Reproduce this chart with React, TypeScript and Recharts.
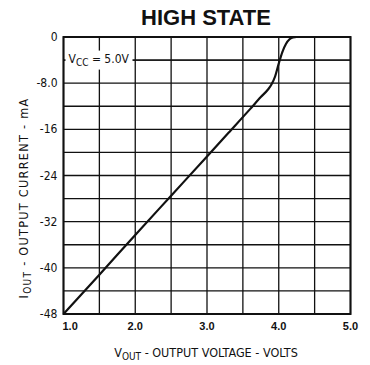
import React from 'react';
import { LineChart, Line, XAxis, YAxis, CartesianGrid, ReferenceLine, ReferenceArea } from 'recharts';

// Output voltage (V) and output current (mA)
const vOut = [1.0, 1.5, 2.0, 2.5, 3.0, 3.3, 3.6, 3.75, 3.85, 3.9, 3.95, 4.0, 4.05, 4.1, 4.15, 4.2, 4.25, 5.0];
const iOut = [-48, -41.2, -34.3, -27.5, -20.7, -16.6, -12.5, -10.4, -9.1, -8.2, -6.8, -4.6, -2.6, -1.2, -0.4, -0.05, 0, 0];

const xTicks = [1.0, 1.5, 2.0, 2.5, 3.0, 3.5, 4.0, 4.5, 5.0];
const yTicks = [0, -4, -8, -12, -16, -20, -24, -28, -32, -36, -40, -44, -48];
const yTickLabels: Record<number, string> = { 0: '0', [-8]: '-8.0', [-16]: '-16', [-24]: '-24', [-32]: '-32', [-40]: '-40', [-48]: '-48' };

const title = 'HIGH STATE';
const vccLabel = { main: 'V', sub: 'CC', rest: ' = 5.0V' };

const data = vOut.map((v, i) => ({ v, i: iOut[i] }));

const NARROW = "'Liberation Sans Narrow', 'DejaVu Sans Condensed', 'Liberation Sans', sans-serif";
const SANS = "'Liberation Sans', Arial, sans-serif";

const XTick = (props: any) => {
  const { x, y, payload, index } = props;
  const v = payload.value as number;
  if (Math.abs(v - Math.round(v)) > 1e-6) return null;
  return (
    <text x={index === 0 ? x - 1 : x} y={y} dy={8} textAnchor={index === 0 ? 'start' : 'middle'}
      fontFamily={SANS} fontSize={11} fontWeight="bold" fill="#111">
      {v.toFixed(1)}
    </text>
  );
};

const YTick = (props: any) => {
  const { x, y, payload } = props;
  const label = yTickLabels[payload.value as number];
  if (label === undefined) return null;
  return (
    <text x={x} y={y} dy={4} textAnchor="end" fontFamily={NARROW} fontSize={12} fill="#111">
      {label}
    </text>
  );
};

const XTitle = () => (
  <g>
    <text x={206} y={25} textAnchor="middle" fontFamily={SANS} fontSize={22} fontWeight="bold" fill="#111">
      {title}
    </text>
    <text x={206} y={357} textAnchor="middle" fontFamily={NARROW} fontSize={12.5} fill="#111">
      V<tspan fontSize={10} dy={3}>OUT</tspan><tspan dy={-3}> - OUTPUT VOLTAGE - VOLTS</tspan>
    </text>
  </g>
);

const YTitle = () => (
  <text x={28} y={198} transform="rotate(-90, 28, 198)" textAnchor="middle" fontFamily={NARROW} fontSize={12.5}
    letterSpacing={1.3} fill="#111">
    I<tspan fontSize={10} dy={3}>OUT</tspan><tspan dy={-3}> - OUTPUT CURRENT - mA</tspan>
  </text>
);

const VccLabel = (props: any) => {
  const vb = props.viewBox || {};
  const x0 = (vb.x ?? 63.5) + 2;
  const y0 = vb.y ?? 60.7;
  return (
    <g>
      <rect x={x0} y={y0 - 9.5} width={67} height={19} fill="#fff" />
      <text x={x0 + 3} y={y0 + 3} fontFamily={NARROW} fontSize={12} fill="#111">
        {vccLabel.main}<tspan fontSize={10} dy={3}>{vccLabel.sub}</tspan><tspan dy={-3}>{vccLabel.rest}</tspan>
      </text>
    </g>
  );
};

export default function App() {
  return (
    <div style={{ position: 'absolute', left: 0, top: 0, background: '#fff' }}>
      <LineChart width={370} height={365} data={data} margin={{ top: 37, right: 19.5, bottom: 0, left: 0 }}>
        <CartesianGrid stroke="#111" strokeWidth={1.3} ticks={undefined} />
        <XAxis dataKey="v" type="number" domain={[1, 5]} ticks={xTicks} interval={0} height={51}
          axisLine={false} tickLine={false} tickSize={0} tickMargin={8} tick={<XTick />}
          label={<XTitle />} />
        <YAxis dataKey="i" type="number" domain={[-48, 0]} ticks={yTicks} interval={0} width={63.5}
          axisLine={false} tickLine={false} tickSize={0} tickMargin={6} tick={<YTick />}
          label={<YTitle />} />
        <ReferenceLine y={-4} stroke="#111" strokeWidth={1.3} label={<VccLabel />} />
        <ReferenceArea x1={1} x2={5} y1={-48} y2={0} fill="none" stroke="#111" strokeWidth={2} />
        <Line type="monotone" dataKey="i" stroke="#111" strokeWidth={2.2} dot={false} isAnimationActive={false} />
      </LineChart>
    </div>
  );
}
